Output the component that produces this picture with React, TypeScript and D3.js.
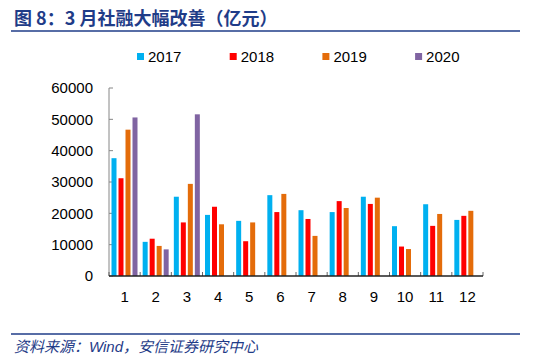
import React from 'react';
import * as d3 from 'd3';

const months = ['1', '2', '3', '4', '5', '6', '7', '8', '9', '10', '11', '12'];
const years = ['2017', '2018', '2019', '2020'];
const v2017 = [37600, 10900, 25300, 19500, 17600, 25800, 21000, 20400, 25300, 15900, 22900, 17900];
const v2018 = [31200, 11900, 17100, 22100, 11100, 20400, 18200, 23900, 23000, 9400, 16000, 19200];
const v2019 = [46700, 9600, 29400, 16500, 17100, 26200, 12800, 21700, 25000, 8600, 19800, 20800];
const v2020 = [50600, 8500, 51600, null, null, null, null, null, null, null, null, null];
const yTicks = [0, 10000, 20000, 30000, 40000, 50000, 60000];

const colors = ['#00B0F0', '#FF0000', '#E46C0A', '#8064A2'];
const seriesValues = [v2017, v2018, v2019, v2020];
const blue = '#1F3C88';

const App = () => {
  const width = 540;
  const height = 362;
  const left = 109;
  const right = 483;
  const top = 88;
  const bottom = 276;

  const x0 = d3.scaleBand().domain(months).range([left, right]).padding(0);
  const x1 = d3.scaleBand().domain(years).range([2.5, 28.5]).paddingInner(2 / 7).paddingOuter(0);
  const y = d3.scaleLinear().domain([0, 60000]).range([bottom, top]);

  const font = '"Liberation Sans", Arial, sans-serif';
  const cjk = '"Noto Sans CJK SC", sans-serif';

  return (
    <svg width={width} height={height} style={{ position: 'absolute', left: 0, top: 0, background: '#fff' }}>
      {/* title */}
      <text x={14} y={25} fontFamily={cjk} fontWeight="bold" fontSize={18} fill={blue}>
        图 8：3 月社融大幅改善（亿元）
      </text>
      <line x1={11} x2={520} y1={31} y2={31} stroke={blue} strokeWidth={1.5} />

      {/* legend */}
      {years.map((yr, i) => (
        <g key={yr} transform={`translate(${137 + i * 92.7},0)`}>
          <rect x={0} y={53} width={7} height={7} fill={colors[i]} />
          <text x={11} y={62} fontFamily={font} fontSize={15} fill="#000">{yr}</text>
        </g>
      ))}

      {/* y axis */}
      <line x1={left} x2={left} y1={top} y2={bottom} stroke="#868686" strokeWidth={1} />
      {yTicks.map(t => (
        <g key={t}>
          <line x1={left} x2={left + 4} y1={y(t)} y2={y(t)} stroke="#868686" />
          <text x={93} y={y(t)} dy="0.35em" textAnchor="end" fontFamily={font} fontSize={15} fill="#000">
            {t}
          </text>
        </g>
      ))}

      {/* bars */}
      {months.map((m, mi) => (
        <g key={m} transform={`translate(${x0(m)},0)`}>
          {seriesValues.map((vals, si) => {
            const v = vals[mi];
            if (v == null) return null;
            return (
              <rect
                key={si}
                x={x1(years[si])}
                y={y(v)}
                width={x1.bandwidth()}
                height={bottom - y(v)}
                fill={colors[si]}
              />
            );
          })}
        </g>
      ))}

      {/* x axis */}
      {months.map(m => (
        <line key={'t' + m} x1={x0(m)} x2={x0(m)} y1={bottom} y2={bottom - 4} stroke="#666" />
      ))}
      <line x1={right} x2={right} y1={bottom} y2={bottom - 4} stroke="#666" />
      <line x1={left} x2={right} y1={bottom} y2={bottom} stroke="#222" strokeWidth={1.5} />
      {months.map(m => (
        <text
          key={'l' + m}
          x={x0(m) + x0.bandwidth() / 2}
          y={302}
          textAnchor="middle"
          fontFamily={font}
          fontSize={15}
          fill="#000"
        >
          {m}
        </text>
      ))}

      {/* footer */}
      <line x1={11} x2={520} y1={334} y2={334} stroke={blue} strokeWidth={1.5} />
      <text x={14} y={352} fontFamily={cjk} fontStyle="italic" fontSize={15} fill={blue}>
        资料来源：
        <tspan fontFamily={font}>Wind</tspan>
        ，安信证券研究中心
      </text>
    </svg>
  );
};

export default App;
